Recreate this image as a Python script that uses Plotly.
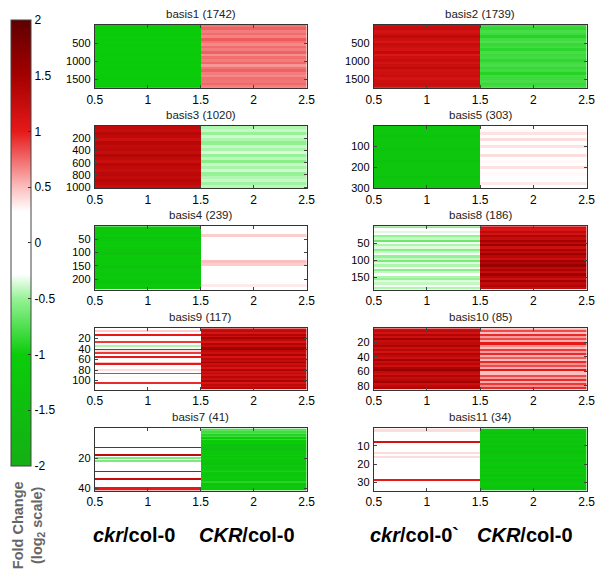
import numpy as np
import plotly.graph_objects as go

# ---------------- data ----------------
panel_names = ["basis1", "basis3", "basis4", "basis9", "basis7",
               "basis2", "basis5", "basis8", "basis10", "basis11"]
gene_counts = [1742, 1020, 239, 117, 41, 1739, 303, 186, 85, 34]
y_ticks = [[500, 1000, 1500], [200, 400, 600, 800, 1000], [50, 100, 150, 200],
           [20, 40, 60, 80, 100], [20, 40],
           [500, 1000, 1500], [100, 200, 300], [50, 100, 150],
           [20, 40, 60, 80], [10, 20, 30]]
x_ticks = [0.5, 1, 1.5, 2, 2.5]
x_ticktext = ["0.5", "1", "1.5", "2", "2.5"]
conditions = [1, 2]

# stripe values (top to bottom) for column 1 (ckr/col-0) and column 2 (CKR/col-0)
basis1_c1 = [-1.05, -1.1, -1.0, -1.1, -1.05, -1.15, -1.0, -1.1, -1.05, -1.0, -1.1, -1.15,
             -1.05, -1.0, -1.1, -1.05, -1.1, -1.0, -1.05, -1.15, -1.1, -1.0, -1.05, -1.1]
basis1_c2 = [0.72, 0.78, 0.7, 0.75, 0.68, 0.8, 0.72, 0.66, 0.75, 0.7, 0.78, 0.64,
             0.74, 0.7, 0.76, 0.62, 0.72, 0.78, 0.7, 0.66, 0.74, 0.72, 0.76, 0.7]
basis3_c1 = [1.3, 1.25, 1.35, 1.3, 1.2, 1.35, 1.28, 1.32, 1.25, 1.38, 1.3, 1.22,
             1.35, 1.3, 1.25, 1.33, 1.28, 1.36, 1.3, 1.24]
basis3_c2 = [-0.45, -0.4, -0.5, -0.38, -0.45, -0.52, -0.4, -0.46, -0.36, -0.5, -0.42, -0.55,
             -0.4, -0.46, -0.38, -0.5, -0.44, -0.4, -0.48, -0.42]
basis4_c1 = [-1.2, -1.15, -1.25, -1.1, -1.3, -1.2, -1.15, -1.05, -1.25, -1.2, -1.35, -1.15,
             -1.2, -1.1, -1.25, -1.3, -1.2, -1.15, -1.25, -1.1, -1.2, -1.3, -1.15, -1.2]
basis4_c2 = [0.1, 0.15, 0.1, 0.45, 0.1, 0.2, 0.1, 0.15, 0.1, 0.25, 0.1, 0.1,
             0.2, 0.5, 0.45, 0.1, 0.15, 0.1, 0.2, 0.1, 0.15, 0.1, 0.35, 0.1]
basis9_c1 = [0.2, 0.45, 0.15, 1.0, 0.2, 0.1, 0.3, 0.9, 0.15, -0.45, 0.2, 1.1,
             0.4, 0.9, 0.2, 1.0, 0.3, 0.15, 0.5, 1.0, 0.2, 0.1, 0.4, 0.2,
             0.9, 0.15, 0.3, 0.1, 0.2, 0.95, 0.2, 0.1, 0.2]
basis9_c2 = [1.2, 1.3, 1.1, 1.4, 1.2, 1.5, 1.3, 1.1, 1.4, 1.25, 1.5, 1.6,
             1.3, 1.2, 1.45, 1.1, 1.35, 1.25, 1.5, 1.2, 1.3, 1.1, 1.4, 1.2,
             1.3, 1.15, 1.35, 1.2, 1.45, 1.1, 1.3, 1.2, 1.35]
basis7_c1 = [0.05, 0.05, 0.05, 0.05, 0.05, 0.05, 0.05, 0.05, 0.05, 0.05, 0.05, 0.05,
             1.3, 0.05, 0.05, 0.05, 0.05, 1.3, 0.05, -0.6, 0.05, -0.6, 0.05, 0.05,
             0.05, 0.05, 0.05, 0.05, 1.25, 0.05, 0.05, 0.05, 0.05, 1.25, 0.05, 0.05,
             0.05, 0.05, 0.05, 1.0, 1.0]
basis7_c2 = [-0.75, -0.7, -0.8, -0.75, -0.9, -0.8, -1.0, -0.85, -1.1, -1.0, -1.3, -1.35,
             -1.3, -1.4, -1.3, -1.2, -1.35, -1.1, -1.3, -1.0, -1.2, -1.35, -1.3, -1.4,
             -1.0, -1.2, -1.3, -1.1, -0.95, -1.2, -1.3, -1.25, -1.0, -1.1, -1.3, -0.9,
             -1.2, -1.3, -1.05, -1.2, -1.3]
basis2_c1 = [1.2, 1.25, 1.15, 1.2, 1.3, 1.2, 1.1, 1.25, 1.2, 1.15, 1.28, 1.05,
             1.2, 1.25, 1.15, 1.22, 1.3, 1.18, 1.2, 1.25, 1.12, 1.2, 1.24, 1.2]
basis2_c2 = [-0.8, -0.85, -0.78, -0.82, -0.9, -0.8, -0.76, -0.84, -0.8, -0.88, -0.78, -0.82,
             -0.8, -0.86, -0.8, -0.78, -0.84, -0.8, -0.9, -0.8, -0.82, -0.78, -0.84, -0.8]
basis5_c1 = [-1.25, -1.2, -1.25, -1.3, -1.2, -1.25, -1.2, -1.3, -1.25, -1.2, -1.25, -1.3,
             -1.2, -1.25, -1.2, -1.25, -1.3, -1.2, -1.25, -1.2]
basis5_c2 = [0.1, 0.3, 0.38, 0.2, 0.4, 0.15, 0.38, 0.25, 0.1, 0.4, 0.2, 0.3,
             0.1, 0.38, 0.15, 0.3, 0.2, 0.1, 0.35, 0.15]
basis8_c1 = [-0.55, -0.2, -0.35, -0.15, -0.5, -0.4, -0.65, -0.3, -0.45, -0.35, -0.55, -0.4,
             -0.3, -0.5, -0.4, -0.6, -0.35, -0.45, -0.3, -0.55, -0.4, -0.2, -0.45, -0.5,
             -0.35, -0.4, -0.3, -0.45]
basis8_c2 = [1.2, 1.1, 1.3, 1.15, 1.4, 1.25, 1.5, 1.3, 1.6, 1.2, 1.45, 1.3,
             1.55, 1.35, 1.2, 1.5, 1.4, 1.6, 1.3, 1.45, 1.25, 1.55, 1.35, 1.2,
             1.5, 1.3, 1.4, 1.25]
basis10_c1 = [1.2, 1.3, 1.15, 1.4, 1.2, 1.5, 1.25, 1.3, 1.45, 1.2, 1.35, 1.15,
              1.4, 1.3, 1.2, 1.5, 1.25, 1.35, 1.2, 1.45, 1.6, 1.3, 1.2, 1.4,
              1.25, 1.35, 1.5, 1.2, 1.3, 1.4]
basis10_c2 = [0.55, 0.85, 0.5, 0.95, 0.6, 0.85, 0.55, 1.0, 0.65, 0.5, 0.9, 0.6,
              0.95, 0.55, 0.8, 0.5, 0.95, 0.65, 0.85, 0.55, 1.0, 0.5, 0.5, 0.85,
              0.6, 0.95, 0.55, 0.9, 0.65, 0.95]
basis11_c1 = [0.4, 0.4, 0.05, 0.05, 0.05, 0.05, 0.05, 1.15, 0.05, 0.05, 0.05, 0.05,
              0.05, 0.4, 0.05, 0.4, 0.05, 0.05, 0.05, 0.05, 0.05, 0.05, 0.05, 0.05,
              0.05, 0.05, 0.05, 0.05, 1.0, 0.05, 0.05, 0.05, 0.05, 0.05]
basis11_c2 = [-1.2, -1.25, -1.3, -1.2, -1.35, -1.25, -1.2, -1.3, -1.25, -1.4, -1.3, -1.2,
              -1.3, -1.4, -1.25, -1.2, -1.1, -1.3, -1.25, -1.1, -1.2, -1.3, -1.15, -1.25,
              -1.1, -1.3, -1.2, -1.15, -1.3, -1.25, -1.1, -1.2, -1.3, -1.25]

col1_values = [basis1_c1, basis3_c1, basis4_c1, basis9_c1, basis7_c1,
               basis2_c1, basis5_c1, basis8_c1, basis10_c1, basis11_c1]
col2_values = [basis1_c2, basis3_c2, basis4_c2, basis9_c2, basis7_c2,
               basis2_c2, basis5_c2, basis8_c2, basis10_c2, basis11_c2]

bottom_labels = ["<i>ckr</i>/col-0", "<i>CKR</i>/col-0", "<i>ckr</i>/col-0`", "<i>CKR</i>/col-0"]
cbar_ticks = [-2, -1.5, -1, -0.5, 0, 0.5, 1, 1.5, 2]

# ---------------- styling ----------------
W, H = 609, 588
OFF = 8  # page body margin in the browser


def px(x):
    return (x - OFF) / W


def py(y):
    return 1 - (y - OFF) / H


colorscale = [
    [0.0, "rgb(20,175,20)"],
    [0.25, "rgb(10,205,10)"],
    [0.375, "rgb(150,242,150)"],
    [0.43, "rgb(255,255,255)"],
    [0.57, "rgb(255,255,255)"],
    [0.625, "rgb(252,190,190)"],
    [0.75, "rgb(230,25,25)"],
    [0.875, "rgb(165,0,0)"],
    [1.0, "rgb(95,0,0)"],
]
col_x = [(89, 307), (376, 595)]
row_y = [(25, 89), (127, 190), (228, 292), (331, 393), (432, 495)]
FONT = "Liberation Sans, Arial, sans-serif"

fig = go.Figure()
layout = dict(width=W, height=H, margin=dict(l=0, r=0, t=0, b=0),
              paper_bgcolor="white", plot_bgcolor="white",
              font=dict(family=FONT, size=11, color="black"), showlegend=False)
annotations = []

for i, name in enumerate(panel_names):
    col = 0 if i < 5 else 1
    row = i % 5
    n = gene_counts[i]
    c1 = col1_values[i]
    c2 = col2_values[i]
    k = len(c1)
    edges = np.linspace(0.5, n + 0.5, k + 1)
    z = [[a, b] for a, b in zip(c1, c2)]
    ax = "" if i == 0 else str(i + 1)
    trace = go.Heatmap(
        z=z, x=conditions, y=edges, zmin=-2, zmax=2, colorscale=colorscale,
        xaxis="x" + ax, yaxis="y" + ax, showscale=(i == 0), hoverinfo="skip",
    )
    if i == 0:
        trace.colorbar = dict(
            x=(10 - OFF - 7) / W, xanchor="left", y=py(245), yanchor="middle",
            thickness=20, thicknessmode="pixels", len=446, lenmode="pixels",
            tickvals=cbar_ticks, ticktext=["%g" % t for t in cbar_ticks],
            ticks="inside", ticklen=3, tickcolor="#333",
            outlinewidth=1, outlinecolor="#444",
            tickfont=dict(size=12, family=FONT), xpad=0, ypad=0,
        )
    fig.add_trace(trace)
    x0, x1 = col_x[col]
    y0, y1 = row_y[row]
    layout["xaxis" + ax] = dict(
        domain=[px(x0), px(x1)], anchor="y" + ax, range=[0.5, 2.5],
        tickvals=x_ticks, ticktext=x_ticktext, ticks="inside", ticklen=3,
        showline=True, mirror="ticks", linecolor="#333", linewidth=1,
        showgrid=False, zeroline=False, tickfont=dict(size=12), fixedrange=True,
    )
    layout["yaxis" + ax] = dict(
        domain=[py(y1), py(y0)], anchor="x" + ax, range=[n + 0.5, 0.5],
        tickvals=y_ticks[i], ticks="inside", ticklen=3,
        showline=True, mirror="ticks", linecolor="#333", linewidth=1,
        showgrid=False, zeroline=False, tickfont=dict(size=11), ticklabelstandoff=1,
    )
    annotations.append(dict(
        text="%s (%d)" % (name, n), x=(px(x0) + px(x1)) / 2, y=py(y0 - 3),
        xref="paper", yref="paper", xanchor="center", yanchor="bottom",
        showarrow=False, font=dict(size=11.5, family=FONT, color="#222"),
    ))

for lbl, cx in zip(bottom_labels, [129, 246, 418, 532]):
    annotations.append(dict(
        text="<b>" + lbl + "</b>", x=px(cx), y=py(540), xref="paper", yref="paper",
        xanchor="center", yanchor="middle", showarrow=False,
        font=dict(size=20, family=FONT, color="black"),
    ))

annotations.append(dict(
    text="<b>Fold Change<br>(log<sub>2</sub> scale)</b>", x=px(21), y=py(530),
    xref="paper", yref="paper", xanchor="center", yanchor="middle", textangle=-90,
    showarrow=False, font=dict(size=14.5, family=FONT, color="#666"),
))

layout["annotations"] = annotations
fig.update_layout(**layout)
fig.write_html("out.html")
